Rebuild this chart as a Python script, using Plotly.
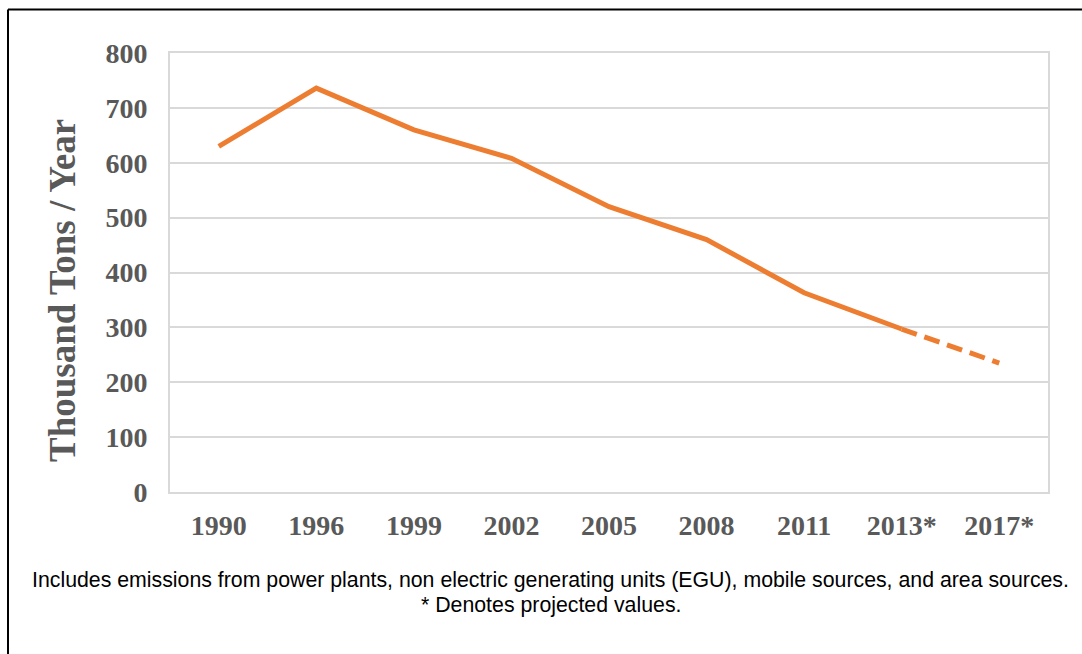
import plotly.graph_objects as go

# Emissions trend (thousand tons per year); starred years are projections
years = ["1990", "1996", "1999", "2002", "2005", "2008", "2011", "2013*", "2017*"]
emissions = [630, 736, 660, 608, 520, 460, 363, 297, 235]
n_measured = 8  # 1990 .. 2013* drawn solid, 2013* -> 2017* drawn dashed

y_ticks = [0, 100, 200, 300, 400, 500, 600, 700, 800]
y_title = "Thousand Tons / Year"
caption_lines = [
    "Includes emissions from power plants, non electric generating units (EGU), "
    "mobile sources, and area sources.",
    "* Denotes projected values.",
]

orange = "#ED7D31"
grey_text = "#595959"
grid = "#D9D9D9"

W, H = 1082, 654
ml, mr, mt, mb = 170, 34, 53, 162
pw, ph = W - ml - mr, H - mt - mb


def px_x(x):
    return (x - ml) / pw


def px_y(y):
    return (H - mb - y) / ph


fig = go.Figure()
fig.add_trace(go.Scatter(
    x=years[:n_measured], y=emissions[:n_measured], mode="lines",
    line=dict(color=orange, width=5), hoverinfo="x+y", showlegend=False,
))
fig.add_trace(go.Scatter(
    x=years[n_measured - 1:], y=emissions[n_measured - 1:], mode="lines",
    line=dict(color=orange, width=5, dash="16px,8px"), hoverinfo="x+y", showlegend=False,
))

tick_font = dict(family="Liberation Serif", size=28, color=grey_text, weight="bold")

fig.update_xaxes(
    type="category", categoryorder="array", categoryarray=years,
    range=[-0.5, len(years) - 0.5],
    showgrid=False, showline=True, linecolor=grid, linewidth=2, mirror=True,
    ticks="outside", ticklen=7, tickcolor="rgba(0,0,0,0)",
    tickfont=tick_font, zeroline=False, fixedrange=True,
)
fig.update_yaxes(
    range=[0, 800], tickvals=y_ticks, ticktext=[str(v) for v in y_ticks],
    showgrid=True, gridcolor=grid, gridwidth=1.5,
    showline=True, linecolor=grid, linewidth=2, mirror=True,
    ticks="outside", ticklen=15, tickcolor="rgba(0,0,0,0)",
    tickfont=tick_font, zeroline=False, fixedrange=True,
)

fig.add_annotation(
    text=y_title, textangle=-90, xref="paper", yref="paper",
    x=px_x(62), y=px_y(291), xanchor="center", yanchor="middle", showarrow=False,
    font=dict(family="Liberation Serif", size=37, color=grey_text, weight="bold"),
)
for line_text, y_px in zip(caption_lines, [580, 605]):
    fig.add_annotation(
        text=line_text, xref="paper", yref="paper",
        x=px_x(550.5), y=px_y(y_px), xanchor="center", yanchor="middle", showarrow=False,
        font=dict(family="Liberation Sans", size=21.3, color="#000000"),
    )

# Outer frame: left and top edges
fx, fy = px_x(8), px_y(9.5)
fig.add_shape(type="line", xref="paper", yref="paper", x0=fx, x1=fx, y0=px_y(H + 10), y1=fy,
              line=dict(color="#000000", width=2))
fig.add_shape(type="line", xref="paper", yref="paper", x0=fx, x1=px_x(W + 10), y0=fy, y1=fy,
              line=dict(color="#000000", width=2))

fig.update_layout(
    width=W, height=H, margin=dict(l=ml, r=mr, t=mt, b=mb),
    paper_bgcolor="white", plot_bgcolor="white", showlegend=False,
)

fig.write_html("out.html")
